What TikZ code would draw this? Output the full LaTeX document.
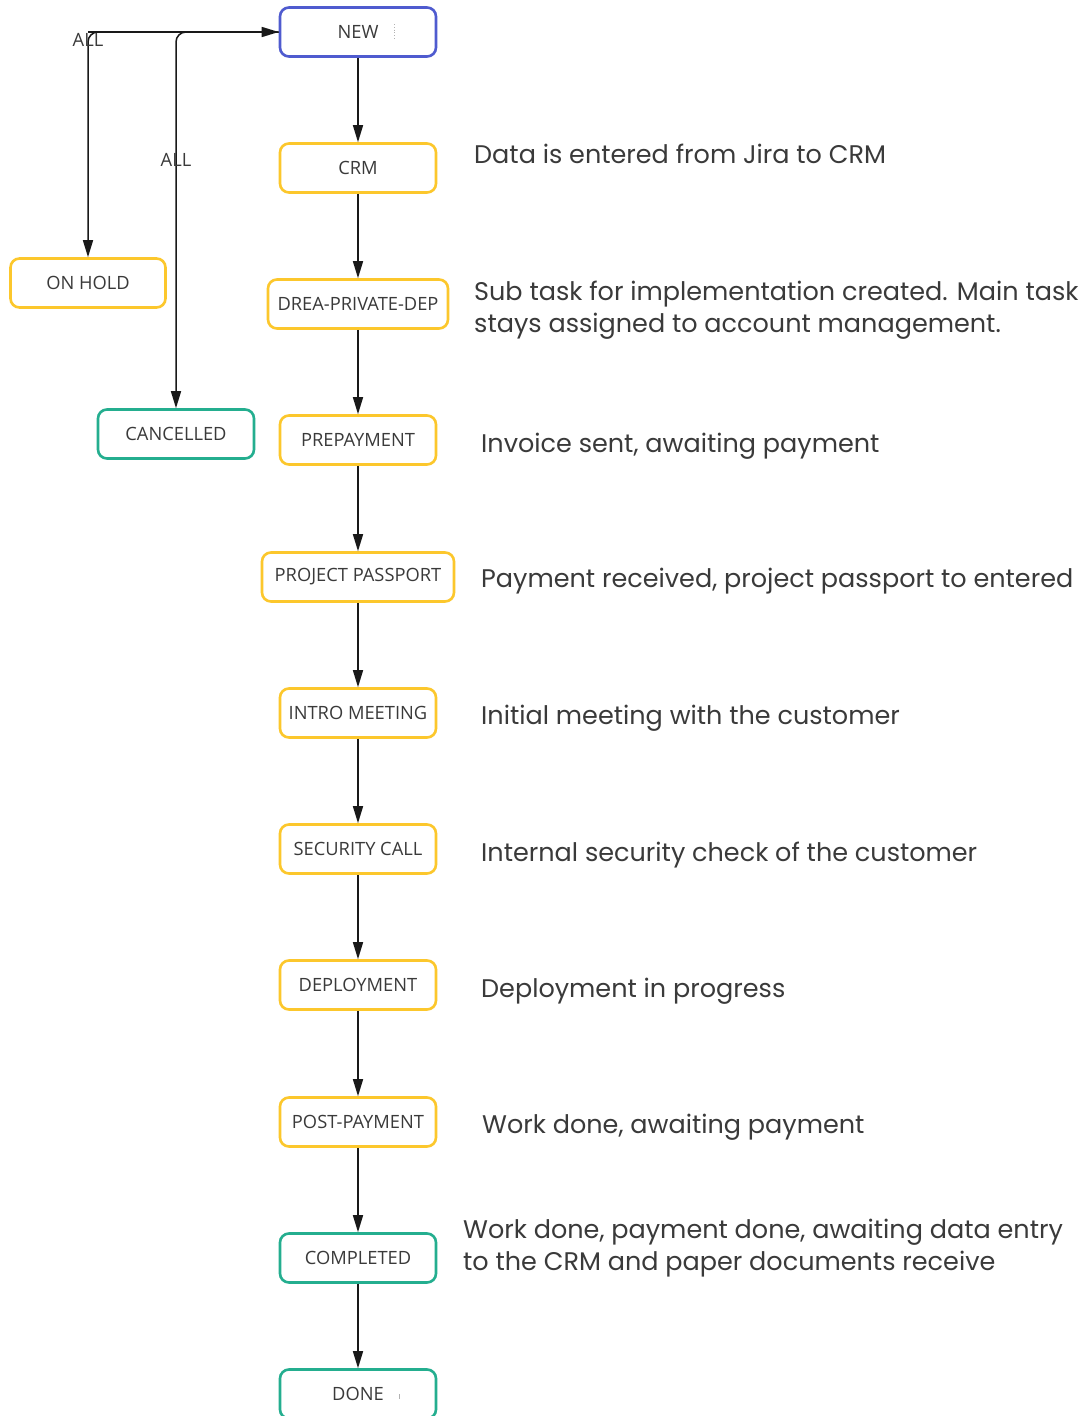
\documentclass[tikz,border=0pt]{standalone}
\usepackage{fontspec}
\setmainfont{Open Sans}
\newfontfamily\descfont{Poppins}
\usetikzlibrary{arrows.meta}
\definecolor{stBlue}{HTML}{4F5BCF}
\definecolor{stYellow}{HTML}{FCC72C}
\definecolor{stTeal}{HTML}{24AE8F}
\definecolor{txt}{HTML}{3A3A3A}
\begin{document}
\begin{tikzpicture}[x=1pt,y=-1pt,
  state/.style={draw, line width=2.6pt, rounded corners=9pt, minimum width=156pt,
    minimum height=49pt, fill=white, text=txt, inner sep=0pt,
    font=\fontsize{18.3}{21}\selectfont},
  ybox/.style={state, draw=stYellow},
  tbox/.style={state, draw=stTeal},
  bbox/.style={state, draw=stBlue},
  flow/.style={-{Triangle[length=17pt,width=10pt]}, line width=1.5pt, draw=black!90},
  lbl/.style={text=txt, inner sep=0pt, font=\fontsize{18.3}{21}\selectfont},
  desc/.style={anchor=base west, text=txt, inner sep=0pt,
    font=\descfont\fontsize{25.5}{32}\selectfont}
]
\useasboundingbox (0,0) rectangle (1087,1416);
\clip (0,0) rectangle (1087,1416);
\fill[white] (0,0) rectangle (1087,1416);

% main workflow column
\node[bbox] (new) at (358,32) {NEW};
\node[ybox] (crm) at (358,168) {CRM};
\node[ybox, minimum width=180pt] (drea) at (358,304) {DREA-PRIVATE-DEP};
\node[ybox] (prepay) at (358,440) {PREPAYMENT};
\node[ybox, minimum width=192pt] (passport) at (358,577) {PROJECT PASSPORT};
\node[ybox] (intro) at (358,713) {INTRO MEETING};
\node[ybox] (security) at (358,849) {SECURITY CALL};
\node[ybox] (deploy) at (358,985) {DEPLOYMENT};
\node[ybox] (postpay) at (358,1122) {POST-PAYMENT};
\node[tbox] (completed) at (358,1258) {COMPLETED};
\node[tbox] (done) at (358,1394) {DONE};

% side states
\node[ybox, minimum width=155pt] (onhold) at (88,283) {ON HOLD};
\node[tbox] (cancelled) at (176,434) {CANCELLED};

% text cursor marks
\draw[black!30, dotted, line width=0.8pt] (394,24) -- (394,40);
\draw[black!30, line width=0.8pt] (399,1394) -- (399,1399);

% transitions
\foreach \a/\b in {new/crm, crm/drea, drea/prepay, prepay/passport, passport/intro,
  intro/security, security/deploy, deploy/postpay, postpay/completed, completed/done}
  \draw[flow] (\a) -- (\b);

\coordinate (hub) at (88,32);
\draw[flow] (hub) -- (new.west);
\draw[flow, rounded corners=10pt] (new.west) -| (onhold.north);
\draw[flow, rounded corners=10pt] (new.west) -| (cancelled.north);

\node[lbl] (allA) at (88,40) {ALL};
\node[lbl] (allB) at (176,160) {ALL};

% descriptions
\node[desc] (d1) at (474,163) {Data is entered from Jira to CRM};
\node[desc] (d2a) at (474,300) {Sub task for implementation created. Main task};
\node[desc] (d2b) at (474,332) {stays assigned to account management.};
\node[desc] (d3) at (481,452) {Invoice sent, awaiting payment};
\node[desc] (d4) at (481,587) {Payment received, project passport to entered};
\node[desc] (d5) at (481,724) {Initial meeting with the customer};
\node[desc] (d6) at (481,861) {Internal security check of the customer};
\node[desc] (d7) at (481,997) {Deployment in progress};
\node[desc] (d8) at (482,1133) {Work done, awaiting payment};
\node[desc] (d9a) at (463,1238) {Work done, payment done, awaiting data entry};
\node[desc] (d9b) at (463,1270) {to the CRM and paper documents receive};
\end{tikzpicture}
\end{document}
